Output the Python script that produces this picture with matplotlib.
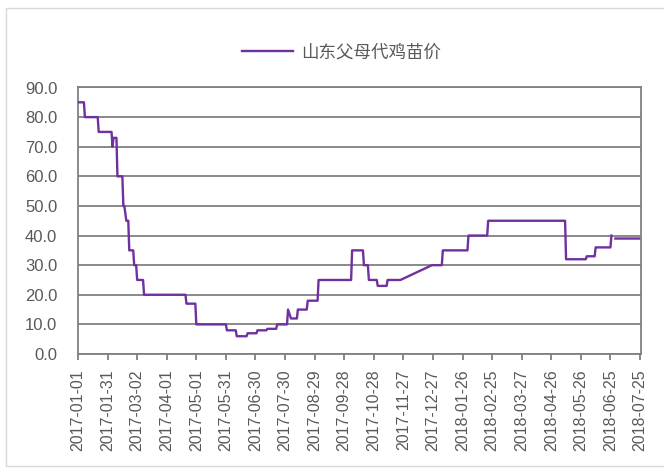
import matplotlib
matplotlib.use("Agg")
import matplotlib.pyplot as plt
import matplotlib.dates as mdates
from matplotlib.patches import Rectangle
import numpy as np
import pandas as pd

series_name = "山东父母代鸡苗价"

dates = [
    "2017-01-01", "2017-01-07", "2017-01-08", "2017-01-21", "2017-01-22",
    "2017-02-04", "2017-02-05", "2017-02-06", "2017-02-09", "2017-02-10",
    "2017-02-15", "2017-02-16", "2017-02-17", "2017-02-19", "2017-02-21",
    "2017-02-22", "2017-02-26", "2017-02-27", "2017-03-01", "2017-03-02",
    "2017-03-08", "2017-03-09", "2017-04-20", "2017-04-21", "2017-04-30",
    "2017-05-01", "2017-05-31", "2017-06-01", "2017-06-10", "2017-06-11",
    "2017-06-21", "2017-06-22", "2017-07-01", "2017-07-02", "2017-07-11",
    "2017-07-12", "2017-07-21", "2017-07-22", "2017-08-01", "2017-08-02",
    "2017-08-05", "2017-08-11", "2017-08-12", "2017-08-21", "2017-08-22",
    "2017-09-01", "2017-09-02", "2017-10-05", "2017-10-06", "2017-10-17",
    "2017-10-18", "2017-10-22", "2017-10-23", "2017-10-31", "2017-11-01",
    "2017-11-10", "2017-11-11", "2017-11-24", "2017-12-26", "2018-01-05",
    "2018-01-06", "2018-01-31", "2018-02-01", "2018-02-20", "2018-02-21",
    "2018-05-10", "2018-05-11", "2018-05-31", "2018-06-01", "2018-06-09",
    "2018-06-10", "2018-06-25", "2018-06-26", "2018-06-28", "2018-06-30",
    "2018-07-24",
]
prices = [
    85, 85, 80, 80, 75,
    75, 70, 73, 73, 60,
    60, 50, 50, 45, 45,
    35, 35, 30, 30, 25,
    25, 20, 20, 17, 17,
    10, 10, 8, 8, 6,
    6, 7, 7, 8, 8,
    8.5, 8.5, 10, 10, 15,
    12, 12, 15, 15, 18,
    18, 25, 25, 35, 35,
    30, 30, 25, 25, 23,
    23, 25, 25, 30, 30,
    35, 35, 40, 40, 45,
    45, 32, 32, 33, 33,
    36, 36, 40, None, 39,
    39,
]

tick_start = "2017-01-01"
tick_end = "2018-07-25"
tick_step_days = 30
y_ticks = [0, 10, 20, 30, 40, 50, 60, 70, 80, 90]

W, H = 664, 469
fig = plt.figure(figsize=(W / 100, H / 100), dpi=100)
fig.patch.set_facecolor("white")

# outer chart-area border
fig.patches.append(Rectangle((6 / W, 1 - 466 / H), (W + 10) / W, (466 - 8) / H,
                             transform=fig.transFigure, fill=False,
                             edgecolor="#D9D9D9", linewidth=1.0, zorder=0))

left, right, top, bottom = 78, 641, 87.5, 354
ax = fig.add_axes([left / W, 1 - bottom / H, (right - left) / W, (bottom - top) / H])

x = pd.to_datetime(dates)
y = np.array([np.nan if v is None else v for v in prices], dtype=float)
purple = "#7030A0"
ax.plot(x, y, color=purple, linewidth=1.7, label=series_name, zorder=3)

ticks = pd.date_range(tick_start, tick_end, freq=f"{tick_step_days}D")
ax.set_xticks(ticks)
ax.set_xticklabels([t.strftime("%Y-%m-%d") for t in ticks], rotation=90)
ax.set_xlim(pd.Timestamp(tick_start), pd.Timestamp(tick_end) + pd.Timedelta(days=1))

ax.set_ylim(0, 90)
ax.set_yticks(y_ticks)
ax.set_yticklabels([f"{v:.1f}" for v in y_ticks])

grid_c = "#808080"
ax.grid(axis="y", color=grid_c, linewidth=1.3, zorder=1)
ax.set_axisbelow(True)
for s in ax.spines.values():
    s.set_color(grid_c)
    s.set_linewidth(1.3)

txt_c = "#595959"
ax.tick_params(axis="x", direction="out", length=4, width=1.3, color=grid_c,
               labelcolor=txt_c, labelsize=11.5, pad=7)
ax.tick_params(axis="y", length=0, labelcolor=txt_c, labelsize=12, pad=15)
for lab in ax.get_xticklabels() + ax.get_yticklabels():
    lab.set_family(["Liberation Sans", "DejaVu Sans"])

leg = fig.legend(loc="center", bbox_to_anchor=(341.7 / W, 1 - 52.5 / H),
                 frameon=False, handlelength=2.9, handletextpad=0.5,
                 prop={"family": ["Noto Sans CJK SC", "DejaVu Sans"], "size": 12.6})
for t in leg.get_texts():
    t.set_color(txt_c)

fig.savefig("out.png", dpi=100, facecolor="white")
